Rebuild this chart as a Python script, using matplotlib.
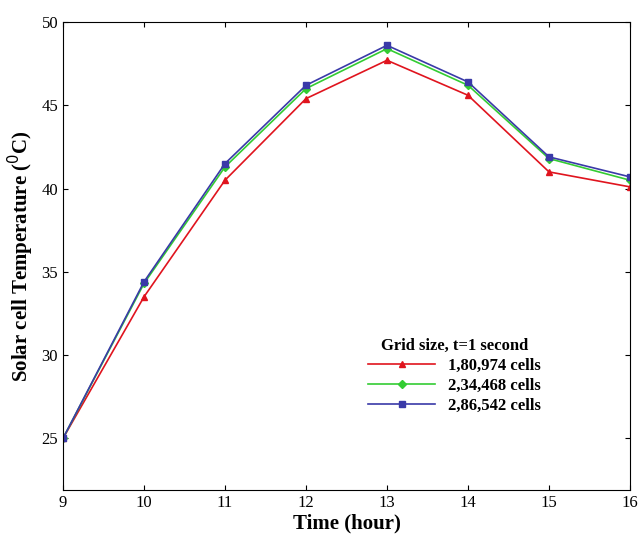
import matplotlib
matplotlib.use("Agg")
import matplotlib.pyplot as plt

hours = [9, 10, 11, 12, 13, 14, 15, 16]
red = [25, 33.5, 40.5, 45.4, 47.7, 45.6, 41.0, 40.1]
green = [25, 34.3, 41.3, 46.0, 48.4, 46.2, 41.8, 40.5]
blue = [25, 34.4, 41.5, 46.2, 48.6, 46.4, 41.9, 40.7]
labels = ["1,80,974 cells", "2,34,468 cells", "2,86,542 cells"]

plt.rcParams['font.family'] = ['Liberation Serif', 'DejaVu Serif']
fig = plt.figure(figsize=(6.4, 5.56), dpi=100)
ax = fig.add_axes([63/640, 1-490/556, 567/640, 468/556])
ax.plot(hours, red, color='#e0141e', marker='^', ms=5, lw=1.2, label=labels[0])
ax.plot(hours, green, color='#33cc33', marker='D', ms=4, lw=1.2, label=labels[1])
ax.plot(hours, blue, color='#3a3aa8', marker='s', ms=4.5, lw=1.2, label=labels[2])
ax.set_xlim(9, 16)
ax.set_ylim(21.9, 50)
ax.set_xticks(hours)
ax.set_yticks([25, 30, 35, 40, 45, 50])
ax.tick_params(direction='in', top=True, right=True, labelsize=12)
ax.set_xlabel('Time (hour)', fontsize=15, fontweight='bold', labelpad=2)
ax.set_ylabel('Solar cell Temperature ($^{0}$C)', fontsize=15, fontweight='bold')
leg = ax.legend(title='Grid size, t=1 second', loc='lower right', bbox_to_anchor=(0.87, 0.13),
                frameon=False, prop={'weight': 'bold', 'size': 12}, handlelength=4,
                labelspacing=0.25)
leg.get_title().set_fontweight('bold')
leg.get_title().set_fontsize(12)
fig.savefig('out.png', dpi=100)
